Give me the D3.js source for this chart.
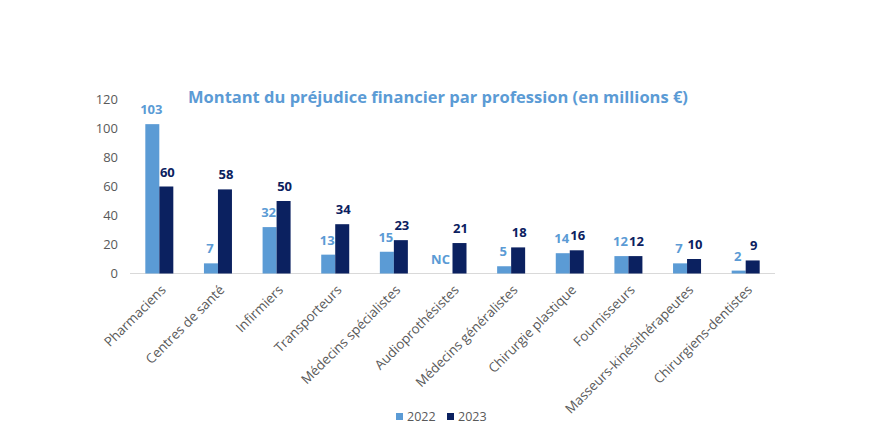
<!DOCTYPE html>
<html>
<head>
<meta charset="utf-8">
<script src="https://cdn.jsdelivr.net/npm/d3@7"></script>
<style>
  body { margin: 0; background: #fff; }
  text { font-family: "Open Sans", sans-serif; }
</style>
</head>
<body>
<svg id="chart" width="877" height="433"></svg>
<script>
// data
const categories = ["Pharmaciens", "Centres de santé", "Infirmiers", "Transporteurs",
  "Médecins spécialistes", "Audioprothésistes", "Médecins généralistes",
  "Chirurgie plastique", "Fournisseurs", "Masseurs-kinésithérapeutes", "Chirurgiens-dentistes"];
const values2022 = [103, 7, 32, 13, 15, null, 5, 14, 12, 7, 2];
const values2023 = [60, 58, 50, 34, 23, 21, 18, 16, 12, 10, 9];
const yTicks = [0, 20, 40, 60, 80, 100, 120];
const seriesNames = ["2022", "2023"];

const COL_A = "#5b9bd5";
const COL_B = "#0b2160";
const GREY = "#595959";

const svg = d3.select("#chart");
const margin = { left: 130, right: 102, top: 99, bottom: 160 };
const W = 877, H = 433;

const x = d3.scaleBand().domain(categories).range([margin.left, W - margin.right]);
const sub = d3.scaleBand().domain(seriesNames).range([0, 28]);
const y = d3.scaleLinear().domain([0, 120]).range([273.5, 99.5]);

// title
svg.append("text")
  .attr("x", 438).attr("y", 103)
  .attr("text-anchor", "middle")
  .attr("fill", COL_A)
  .attr("font-weight", "bold")
  .attr("font-size", 16.5)
  .text("Montant du préjudice financier par profession (en millions €)");

// y axis labels
svg.append("g").selectAll("text").data(yTicks).enter()
  .append("text")
  .attr("x", 118)
  .attr("y", d => y(d))
  .attr("dy", "0.35em")
  .attr("text-anchor", "end")
  .attr("fill", GREY)
  .attr("font-size", 13)
  .text(d => d);

// baseline
svg.append("line")
  .attr("x1", margin.left).attr("x2", W - margin.right)
  .attr("y1", y(0)).attr("y2", y(0))
  .attr("stroke", "#d9d9d9").attr("stroke-width", 1);

const rows = categories.map((c, i) => ({ c, a: values2022[i], b: values2023[i] }));
const groups = svg.append("g").selectAll("g").data(rows).enter()
  .append("g")
  .attr("transform", d => `translate(${x(d.c) + x.bandwidth() / 2 - 14},0)`);

groups.filter(d => d.a != null).append("rect")
  .attr("x", sub("2022")).attr("width", sub.bandwidth())
  .attr("y", d => y(d.a)).attr("height", d => y(0) - y(d.a))
  .attr("fill", COL_A);

groups.append("rect")
  .attr("x", sub("2023")).attr("width", sub.bandwidth())
  .attr("y", d => y(d.b)).attr("height", d => y(0) - y(d.b))
  .attr("fill", COL_B);

// value labels
groups.append("text")
  .attr("x", d => sub("2022") + sub.bandwidth() / 2 - (d.a == null ? 5 : 1))
  .attr("y", d => d.a == null ? y(0) - 10 : y(d.a) - 10)
  .attr("text-anchor", "middle")
  .attr("fill", COL_A)
  .attr("font-weight", "bold")
  .attr("font-size", 13)
  .text(d => d.a == null ? "NC" : d.a);

groups.append("text")
  .attr("x", sub("2023") + sub.bandwidth() / 2 + 1)
  .attr("y", d => y(d.b) - 10)
  .attr("text-anchor", "middle")
  .attr("fill", COL_B)
  .attr("font-weight", "bold")
  .attr("font-size", 13)
  .text(d => d.b);

// category labels, rotated
svg.append("g").selectAll("text").data(categories).enter()
  .append("text")
  .attr("transform", d => `translate(${x(d) + x.bandwidth() / 2 + 4},${y(0) + 14}) rotate(-45)`)
  .attr("text-anchor", "end")
  .attr("dy", "0.35em")
  .attr("fill", GREY)
  .attr("font-size", 13.3)
  .text(d => d);

// legend
const leg = svg.append("g").selectAll("g").data(seriesNames).enter()
  .append("g")
  .attr("transform", (d, i) => `translate(${396 + i * 51},413)`);
leg.append("rect").attr("width", 7).attr("height", 7)
  .attr("fill", (d, i) => i === 0 ? COL_A : COL_B);
leg.append("text").attr("x", 11).attr("y", 4).attr("dy", "0.35em")
  .attr("fill", GREY).attr("font-size", 12.5)
  .text(d => d);
</script>
</body>
</html>
